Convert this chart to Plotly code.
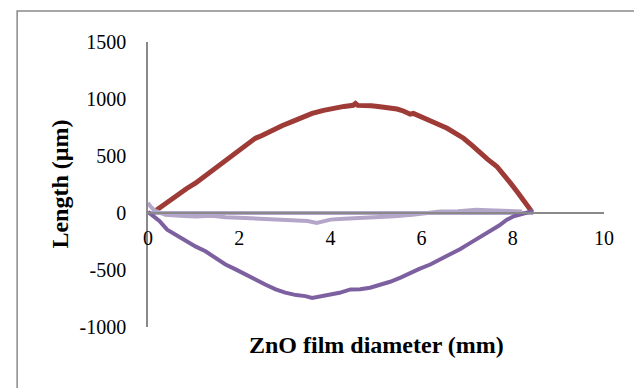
import plotly.graph_objects as go

# Series data
red_x = [0.15, 0.3, 0.5, 0.67, 0.85, 1.04, 1.25, 1.48, 1.6, 1.77, 1.95, 2.13, 2.35, 2.5, 2.72,
         2.95, 3.16, 3.38, 3.6, 3.85, 4.1, 4.3, 4.5, 4.55, 4.6, 4.73, 4.9, 5.09, 5.3, 5.46,
         5.6, 5.75, 5.82, 6.0, 6.19, 6.3, 6.35, 6.56, 6.75, 6.92, 7.1, 7.29, 7.45, 7.65,
         7.8, 7.95, 8.1, 8.24, 8.35, 8.42]
red_y = [15, 60, 110, 160, 215, 262, 325, 393, 425, 481, 530, 582, 655, 680, 728,
         768, 801, 840, 874, 900, 923, 935, 945, 961, 944, 947, 940, 932, 922, 912,
         895, 867, 874, 845, 815, 787, 780, 743, 700, 656, 595, 524, 470, 408,
         340, 262, 185, 101, 50, 10]

purple_x = [0.0, 0.1, 0.25, 0.42, 0.6, 0.82, 1.05, 1.26, 1.5, 1.7, 1.9, 2.13, 2.35, 2.57,
            2.8, 3.01, 3.25, 3.45, 3.6, 3.75, 3.89, 4.0, 4.2, 4.44, 4.65, 4.87, 5.1, 5.31,
            5.55, 5.75, 5.95, 6.19, 6.4, 6.63, 6.85, 7.07, 7.3, 7.5, 7.7, 7.87, 8.02, 8.2, 8.45]
purple_y = [10, -20, -70, -146, -190, -248, -295, -336, -400, -452, -490, -539, -585, -627,
            -670, -699, -720, -729, -745, -735, -720, -714, -700, -670, -668, -656, -630, -603,
            -565, -525, -490, -452, -410, -364, -315, -262, -210, -161, -110, -59, -29, -10, 20]

lav_x = [0.0, 0.05, 0.15, 0.38, 0.7, 1.04, 1.4, 1.7, 2.13, 2.5, 2.9, 3.23, 3.5, 3.7, 3.89,
         4.0, 4.3, 4.6, 5.09, 5.4, 5.8, 6.19, 6.41, 6.8, 7.21, 7.45, 7.65, 8.0, 8.2]
lav_y = [90, 60, 20, -15, -25, -30, -25, -38, -44, -50, -55, -58, -70, -87, -67,
         -58, -50, -45, -30, -28, -15, 0, 14, 15, 29, 25, 20, 15, 14]

flat_x = [0.0, 8.45]
flat_y = [0, 0]

x_ticks = [0, 2, 4, 6, 8, 10]
y_ticks = [-1000, -500, 0, 500, 1000, 1500]
y_tick_text = ["-1000", "-500", "0", "500", "1000", "1500"]

RED = "#9E3B37"
PURPLE = "#7D60A0"
LAV = "#B3A6C9"
AXIS = "#898989"
FONT = "Liberation Serif"

fig = go.Figure()
fig.add_trace(go.Scatter(x=flat_x, y=flat_y, mode="lines", line=dict(color=LAV, width=4)))
fig.add_trace(go.Scatter(x=red_x, y=red_y, mode="lines", line=dict(color=RED, width=5)))
fig.add_trace(go.Scatter(x=lav_x, y=lav_y, mode="lines", line=dict(color=LAV, width=4)))
fig.add_trace(go.Scatter(x=purple_x, y=purple_y, mode="lines", line=dict(color=PURPLE, width=4)))

fig.update_layout(
    width=634, height=380,
    margin=dict(l=140, r=38, t=34, b=61, autoexpand=False),
    paper_bgcolor="white", plot_bgcolor="white",
    showlegend=False,
    font=dict(family=FONT, size=20, color="black"),
    xaxis=dict(range=[0, 10], tickvals=x_ticks, showgrid=False, zeroline=False,
               showline=True, linecolor=AXIS, linewidth=1.5,
               anchor="free", position=0.4, ticks="", ticklabelstandoff=7,
               automargin=False),
    yaxis=dict(range=[-1000, 1500], tickvals=y_ticks, ticktext=y_tick_text,
               showgrid=False, zeroline=False,
               showline=True, linecolor=AXIS, linewidth=1.5, ticks="",
               ticklabelstandoff=16, automargin=False),
    shapes=[dict(type="rect", xref="paper", yref="paper",
                 x0=-0.287, x1=1.2, y0=-0.4, y1=1.109,
                 line=dict(color=AXIS, width=1.5), fillcolor="rgba(0,0,0,0)", layer="below")],
    annotations=[
        dict(text="<b>ZnO film diameter (mm)</b>", xref="paper", yref="paper",
             x=0.5, y=-0.063, xanchor="center", yanchor="middle", showarrow=False,
             font=dict(family=FONT, size=24, color="black")),
        dict(text="<b>Length (µm)</b>", xref="paper", yref="paper", textangle=-90,
             x=-0.195, y=0.5, xanchor="center", yanchor="middle", showarrow=False,
             font=dict(family=FONT, size=24, color="black")),
    ],
)

fig.write_html("out.html")
